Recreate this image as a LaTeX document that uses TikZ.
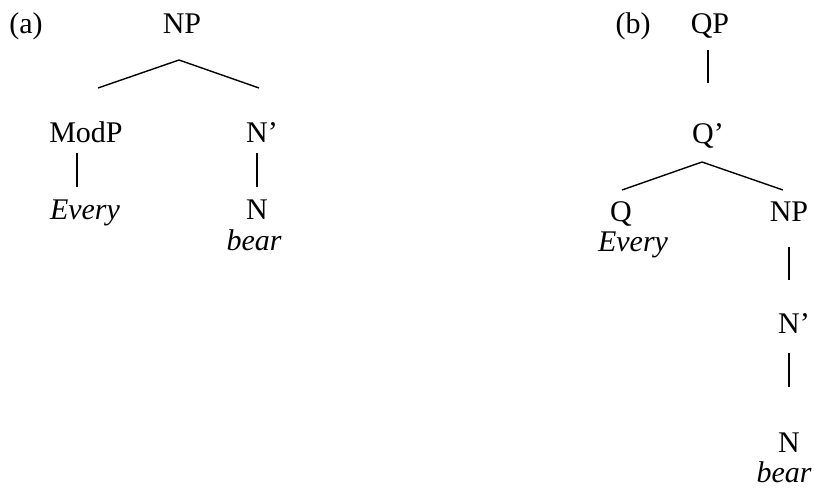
\documentclass[tikz,border=0pt]{standalone}
\usepackage{fontspec}
\setmainfont{Liberation Serif}
\usepackage{tikz}
\usetikzlibrary{positioning}

\tikzset{
  cat/.style={anchor=base, inner sep=0pt, font=\fontsize{30pt}{36pt}\selectfont},
  word/.style={cat, font=\fontsize{30pt}{36pt}\selectfont\itshape},
  branch/.style={line width=1.4pt}
}

\begin{document}
\begin{tikzpicture}[x=1pt, y=-1pt]
            \useasboundingbox (0,0) rectangle (814,491);

            % tree (a)
            \node [cat] (labA) at (26,33) {(a)};
            \node [cat] (npA) at (182,33) {NP};
            \node [cat] (modp) at (86,142) {ModP};
            \node [cat] (nbarA) at (257,142) {N\rlap{'}};
            \node [word] (everyA) at (85,219) {Every};
            \node [cat] (nA) at (257,219) {N};
            \node [word] (bearA) at (254,250) {bear};

            \draw [branch] ([shift={(-3,27)}]npA.base) -- ([shift={(12,-54)}]modp.base);
            \draw [branch] ([shift={(-3,27)}]npA.base) -- ([shift={(2,-54)}]nbarA.base);
            \draw [branch] ([shift={(-9,11)}]modp.base) -- ([shift={(-8,-32)}]everyA.base);
            \draw [branch] ([shift={(0,11)}]nbarA.base) -- ([shift={(0,-32)}]nA.base);

            % tree (b)
            \node [cat] (labB) at (633,33) {(b)};
            \node [cat] (qp) at (710,33) {QP};
            \node [cat] (qbar) at (703,143) {Q\rlap{'}};
            \node [cat] (q) at (621,221) {Q};
            \node [cat] (npB) at (789,221) {NP};
            \node [word] (everyB) at (633,251) {Every};
            \node [cat] (nbarB) at (789,333) {N\rlap{'}};
            \node [cat] (nB) at (789,452) {N};
            \node [word] (bearB) at (784,482) {bear};

            \draw [branch] ([shift={(-2,17)}]qp.base) -- ([shift={(5,-60)}]qbar.base);
            \draw [branch] ([shift={(-1,19)}]qbar.base) -- ([shift={(1,-31)}]q.base);
            \draw [branch] ([shift={(-1,19)}]qbar.base) -- ([shift={(-6,-31)}]npB.base);
            \draw [branch] ([shift={(0,26)}]npB.base) -- ([shift={(0,-53)}]nbarB.base);
            \draw [branch] ([shift={(0,20)}]nbarB.base) -- ([shift={(0,-65)}]nB.base);
\end{tikzpicture}
\end{document}
